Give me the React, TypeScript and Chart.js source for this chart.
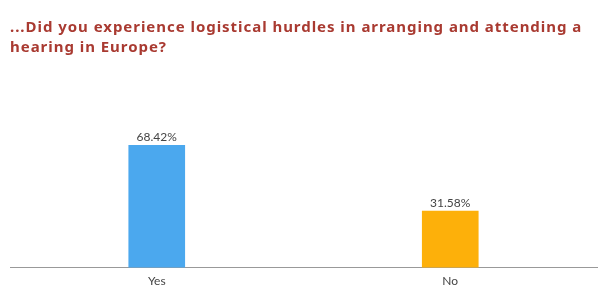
import React, { useEffect, useRef } from "react";
import { Chart, registerables } from "chart.js";

Chart.register(...registerables);

const titleLines = [
  "...Did you experience logistical hurdles in arranging and attending a",
  "hearing in Europe?",
];
const categories = ["Yes", "No"];
const values = [68.42, 31.58];
const barColors = ["#4BA8EE", "#FDB00A"];

const TITLE_FONT = "bold 15px 'Noto Sans', 'DejaVu Sans', sans-serif";

const titlePlugin = {
  id: "titlePlugin",
  afterDraw(chart: any) {
    const { ctx } = chart;
    ctx.save();
    ctx.font = TITLE_FONT;
    ctx.fillStyle = "#A93A31";
    ctx.textAlign = "left";
    ctx.textBaseline = "alphabetic";
    const w = ctx.measureText(titleLines[0]).width;
    const target = 572;
    const ls = Math.max(-1, Math.min(2, (target - w) / titleLines[0].length));
    (ctx as any).letterSpacing = ls.toFixed(2) + "px";
    ctx.fillText(titleLines[0], 10, 32);
    ctx.fillText(titleLines[1], 10, 52);
    ctx.restore();
  },
};

const valueLabels = {
  id: "valueLabels",
  afterDatasetsDraw(chart: any) {
    const { ctx } = chart;
    const meta = chart.getDatasetMeta(0);
    ctx.save();
    ctx.font = "12px Lato";
    ctx.fillStyle = "#444";
    ctx.textAlign = "center";
    ctx.textBaseline = "bottom";
    meta.data.forEach((bar: any, i: number) => {
      ctx.fillText(values[i].toFixed(2) + "%", bar.x, bar.y - 2);
    });
    ctx.restore();
  },
};

export default function App() {
  const ref = useRef<HTMLCanvasElement>(null);
  useEffect(() => {
    const chart = new Chart(ref.current!, {
      type: "bar",
      data: {
        labels: categories,
        datasets: [
          {
            data: values,
            backgroundColor: barColors,
            barThickness: 56,
          },
        ],
      },
      options: {
        animation: false,
        responsive: true,
        maintainAspectRatio: false,
        layout: { padding: { left: 10, right: 8, top: 89, bottom: -5 } },
        plugins: {
          legend: { display: false },
          tooltip: { enabled: false },
          title: { display: false },
        },
        scales: {
          x: {
            grid: { display: false, drawTicks: false },
            border: { color: "#999", width: 1 },
            ticks: { color: "#444", font: { family: "Lato", size: 12 }, padding: 6 },
          },
          y: {
            display: false,
            min: 0,
            max: 100,
          },
        },
      },
      plugins: [valueLabels, titlePlugin],
    });
    let alive = true;
    if ((document as any).fonts) {
      Promise.all([
        (document as any).fonts.load(TITLE_FONT),
        (document as any).fonts.load("12px Lato"),
      ]).then(() => {
        if (alive) chart.update();
      }).catch(() => {});
    }
    return () => {
      alive = false;
      chart.destroy();
    };
  }, []);
  return (
    <div style={{ position: "fixed", left: 0, top: 0, width: 605, height: 289, background: "#fff" }}>
      <canvas ref={ref} />
    </div>
  );
}
